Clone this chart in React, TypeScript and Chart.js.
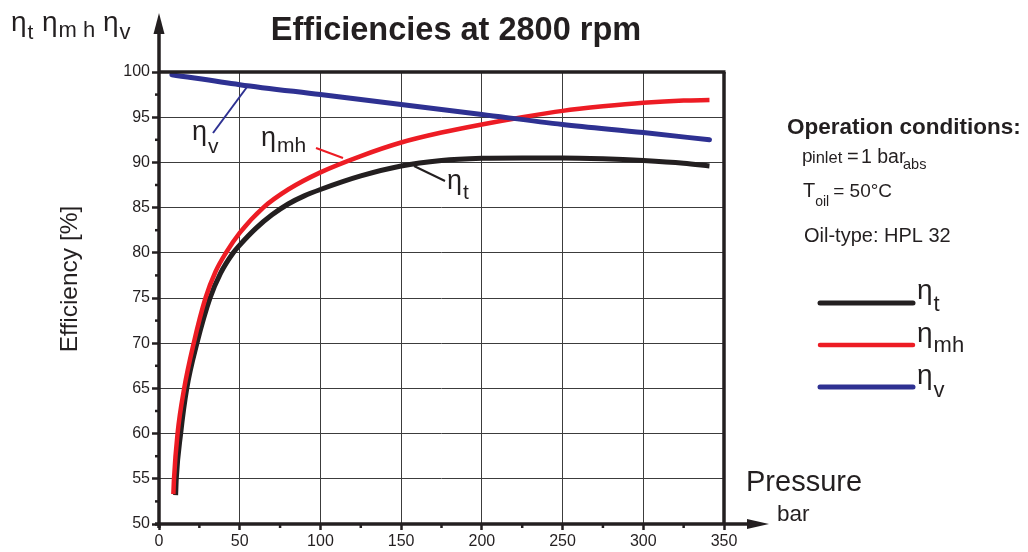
import React, { useEffect, useRef } from "react";
import { Chart, registerables } from "chart.js";

Chart.register(...registerables);

// ---------- data ----------
const pressureT = [10.3, 10.7, 13.4, 17.2, 23.5, 31.6, 38, 46, 50, 60, 70, 80, 90, 100, 125, 150, 175, 200, 225, 250, 275, 300, 325, 341];
const etaT = [53.2, 55, 60, 65, 70, 75, 77.7, 80, 80.85, 82.7, 84.2, 85.4, 86.3, 87.0, 88.5, 89.6, 90.2, 90.45, 90.5, 90.5, 90.4, 90.2, 89.9, 89.6];

const pressureMH = [8.9, 9.3, 11.5, 15.6, 21.5, 28.8, 35, 41.5, 50, 64.6, 80, 100, 125, 150, 175, 200, 225, 250, 275, 300, 325, 341];
const etaMH = [53.3, 55, 60, 65, 70, 75, 77.9, 80, 82.2, 85, 87.0, 88.9, 90.7, 92.2, 93.3, 94.2, 95.0, 95.7, 96.2, 96.6, 96.85, 96.9];

const pressureV = [8, 50, 100, 150, 200, 250, 300, 341];
const etaV = [99.7, 98.6, 97.5, 96.4, 95.3, 94.2, 93.3, 92.5];

const xMin = 0;
const xMax = 350;
const xStep = 50;
const yMin = 50;
const yMax = 100;
const yStep = 5;

const titleText = "Efficiencies at 2800 rpm";
const yAxisTitle = "Efficiency [%]";
const xAxisTitle = "Pressure";
const xAxisUnit = "bar";
const conditionsTitle = "Operation conditions:";
const oilType = "Oil-type: HPL 32";

const BLACK = "#231f20";
const RED = "#ed1c24";
const BLUE = "#2e3192";
const FONT = "'Liberation Sans', Arial, Helvetica, sans-serif";

function toXY(xs: number[], ys: number[]) {
  return xs.map((x, i) => ({ x, y: ys[i] }));
}

function drawEta(
  ctx: CanvasRenderingContext2D,
  x: number,
  y: number,
  sub: string,
  etaSize: number,
  subSize: number,
  subDy: number,
  color: string
) {
  ctx.fillStyle = color;
  ctx.textAlign = "left";
  ctx.textBaseline = "alphabetic";
  ctx.font = `${etaSize}px ${FONT}`;
  ctx.fillText("η", x, y);
  const w = ctx.measureText("η").width;
  ctx.font = `${subSize}px ${FONT}`;
  ctx.fillText(sub, x + w + 1, y + subDy);
}

function line(ctx: CanvasRenderingContext2D, x1: number, y1: number, x2: number, y2: number, w: number, c: string, cap: CanvasLineCap = "butt") {
  ctx.beginPath();
  ctx.moveTo(x1, y1);
  ctx.lineTo(x2, y2);
  ctx.lineWidth = w;
  ctx.strokeStyle = c;
  ctx.lineCap = cap;
  ctx.stroke();
}

const decorations = {
  id: "decorations",
  afterDraw(chart: any) {
    const ctx: CanvasRenderingContext2D = chart.ctx;
    const xs = chart.scales.x;
    const ys = chart.scales.y;
    const { left, right, top, bottom } = chart.chartArea;
    ctx.save();

    // frame: top and right borders
    line(ctx, left, top, right + 1.5, top, 3.5, BLACK);
    line(ctx, right, top, right, bottom, 3.5, BLACK);

    // y axis with arrow
    line(ctx, left, bottom + 4, left, 30, 3.5, BLACK);
    ctx.beginPath();
    ctx.moveTo(left, 13);
    ctx.lineTo(left - 5.5, 34);
    ctx.lineTo(left + 5.5, 34);
    ctx.closePath();
    ctx.fillStyle = BLACK;
    ctx.fill();

    // x axis with arrow
    line(ctx, left - 4, bottom, 752, bottom, 3.5, BLACK);
    ctx.beginPath();
    ctx.moveTo(769, bottom);
    ctx.lineTo(747, bottom - 5);
    ctx.lineTo(747, bottom + 5);
    ctx.closePath();
    ctx.fill();

    // minor ticks
    for (let v = yMin + yStep / 2; v < yMax; v += yStep) {
      const py = ys.getPixelForValue(v);
      line(ctx, left - 4, py, left, py, 2.5, BLACK);
    }
    for (let v = xMin + xStep / 2; v < xMax; v += xStep) {
      const px = xs.getPixelForValue(v);
      line(ctx, px, bottom, px, bottom + 4, 2.5, BLACK);
    }

    // title
    ctx.fillStyle = BLACK;
    ctx.font = `bold 32.5px ${FONT}`;
    ctx.textAlign = "center";
    ctx.textBaseline = "alphabetic";
    ctx.fillText(titleText, 456, 40);

    // top-left symbol labels
    drawEta(ctx, 11, 31, "t", 28, 21, 8, BLACK);
    drawEta(ctx, 42, 31, "m h", 28, 22, 6, BLACK);
    drawEta(ctx, 103, 31, "v", 28, 22, 8, BLACK);

    // y axis title
    ctx.save();
    ctx.translate(77, 279);
    ctx.rotate(-Math.PI / 2);
    ctx.font = `24.5px ${FONT}`;
    ctx.textAlign = "center";
    ctx.fillStyle = BLACK;
    ctx.fillText(yAxisTitle, 0, 0);
    ctx.restore();

    // x axis title
    ctx.textAlign = "left";
    ctx.fillStyle = BLACK;
    ctx.font = `29px ${FONT}`;
    ctx.fillText(xAxisTitle, 746, 491);
    ctx.font = `22.5px ${FONT}`;
    ctx.fillText(xAxisUnit, 777, 521);

    // curve annotations with leader lines
    line(ctx, 213, 133, 247, 87, 2, BLUE);
    drawEta(ctx, 192, 140, "v", 27, 21, 13, BLACK);
    line(ctx, 316, 148, 343, 158, 2, RED);
    drawEta(ctx, 261, 146, "mh", 27, 21, 6, BLACK);
    line(ctx, 414, 166, 445, 181, 2, BLACK);
    drawEta(ctx, 447, 189, "t", 27, 21, 10, BLACK);

    // operation conditions
    ctx.textAlign = "left";
    ctx.fillStyle = BLACK;
    ctx.font = `bold 22.5px ${FONT}`;
    ctx.fillText(conditionsTitle, 787, 134);

    ctx.font = `19px ${FONT}`;
    ctx.fillText("p", 802, 162);
    ctx.font = `16.5px ${FONT}`;
    ctx.fillText("inlet", 812, 163);
    ctx.font = `20px ${FONT}`;
    ctx.fillText("=", 847, 163);
    ctx.font = `19.5px ${FONT}`;
    ctx.fillText("1 bar", 861, 163);
    ctx.font = `14.5px ${FONT}`;
    ctx.fillText("abs", 903, 169);

    ctx.font = `20px ${FONT}`;
    ctx.fillText("T", 803, 197);
    let cx = 803 + ctx.measureText("T").width;
    ctx.font = `14px ${FONT}`;
    ctx.fillText("oil", cx, 206);
    cx += ctx.measureText("oil").width + 4;
    ctx.font = `19px ${FONT}`;
    ctx.fillText("= 50°C", cx, 197);

    ctx.font = `20px ${FONT}`;
    ctx.fillText(oilType, 804, 242);

    // legend
    line(ctx, 820, 303, 913, 303, 5, BLACK, "round");
    drawEta(ctx, 917, 299, "t", 28, 22, 12, BLACK);
    line(ctx, 820, 345, 913, 345, 4.5, RED, "round");
    drawEta(ctx, 917, 342, "mh", 28, 22, 10, BLACK);
    line(ctx, 820, 387, 913, 387, 5, BLUE, "round");
    drawEta(ctx, 917, 384, "v", 28, 22, 13, BLACK);

    ctx.restore();
  },
};

export default function App() {
  const ref = useRef<HTMLCanvasElement | null>(null);

  useEffect(() => {
    if (!ref.current) return;
    const chart = new Chart(ref.current, {
      type: "line",
      data: {
        datasets: [
          {
            label: "ηv",
            data: toXY(pressureV, etaV),
            borderColor: BLUE,
            borderWidth: 5,
            pointRadius: 0,
            cubicInterpolationMode: "monotone",
            borderCapStyle: "round",
            fill: false,
          },
          {
            label: "ηmh",
            data: toXY(pressureMH, etaMH),
            borderColor: RED,
            borderWidth: 4.5,
            pointRadius: 0,
            cubicInterpolationMode: "monotone",
            borderCapStyle: "butt",
            fill: false,
          },
          {
            label: "ηt",
            data: toXY(pressureT, etaT),
            borderColor: BLACK,
            borderWidth: 5,
            pointRadius: 0,
            cubicInterpolationMode: "monotone",
            borderCapStyle: "butt",
            fill: false,
          },
        ],
      },
      options: {
        responsive: false,
        animation: false,
        events: [],
        layout: { padding: { left: 0, top: 72, right: 304, bottom: 0 } },
        plugins: {
          legend: { display: false },
          tooltip: { enabled: false },
          title: { display: false },
        },
        scales: {
          x: {
            type: "linear",
            min: xMin,
            max: xMax,
            ticks: {
              stepSize: xStep,
              color: BLACK,
              font: { family: FONT, size: 16 },
              padding: 2,
              maxRotation: 0,
            },
            grid: {
              color: "#3c3c3c",
              lineWidth: 1,
              tickLength: 6,
              tickColor: BLACK,
              tickWidth: 2.5,
            },
            border: { display: false },
            afterFit: (s: any) => {
              s.height = 28;
            },
          },
          y: {
            type: "linear",
            min: yMin,
            max: yMax,
            ticks: {
              stepSize: yStep,
              color: BLACK,
              font: { family: FONT, size: 16 },
              padding: 2,
            },
            grid: {
              color: "#3c3c3c",
              lineWidth: 1,
              tickLength: 7,
              tickColor: BLACK,
              tickWidth: 2.5,
            },
            border: { display: false },
            afterFit: (s: any) => {
              s.width = 159;
            },
          },
        },
      },
      plugins: [decorations],
    });
    return () => chart.destroy();
  }, []);

  return (
    <canvas
      ref={ref}
      width={1028}
      height={552}
      style={{ position: "fixed", left: 0, top: 0, width: 1028, height: 552, background: "#fff" }}
    />
  );
}
